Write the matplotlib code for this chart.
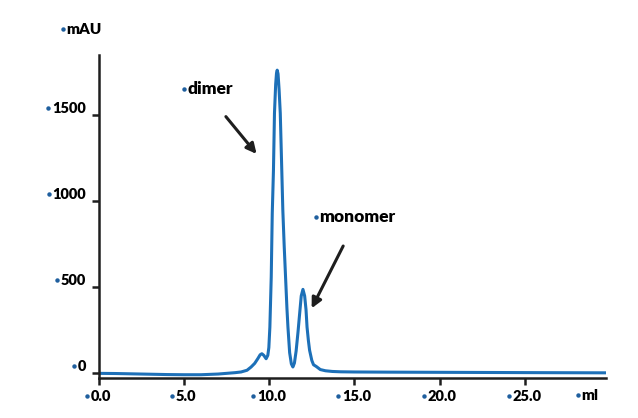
import matplotlib
matplotlib.use("Agg")
import matplotlib.pyplot as plt
from matplotlib.lines import Line2D
from matplotlib.transforms import IdentityTransform

# ── Data ─────────────────────────────────────────────────

volume_ml = [0, 1, 2, 3, 4, 5, 6, 7, 7.5, 8.0, 8.35, 8.7, 8.94, 9.15, 9.33, 9.47,
             9.57, 9.68, 9.82, 9.92, 9.98, 10.04, 10.12, 10.18, 10.25, 10.31, 10.38,
             10.43, 10.47, 10.52, 10.58, 10.65, 10.72, 10.8, 10.88, 10.96, 11.04,
             11.1, 11.2, 11.3, 11.39, 11.48, 11.58, 11.69, 11.78, 11.88, 11.98,
             12.08, 12.16, 12.22, 12.3, 12.37, 12.5, 12.6, 12.76, 13.0, 13.3, 13.7,
             14.2, 15, 17, 20, 23, 26, 29.9]
absorbance_mau = [0, -1, -3, -5, -7, -8, -8, -4, 0, 4, 8, 18, 37, 58, 85, 108,
                  114, 105, 85, 105, 150, 269, 560, 930, 1180, 1512, 1680,
                  1745, 1762, 1740, 1650, 1512, 1250, 948, 740, 560, 380,
                  269, 120, 55, 37, 60, 130, 240, 340, 450, 488,
                  450, 370, 269, 190, 134, 75, 50, 40, 22, 15, 11,
                  9, 8, 7, 6, 5, 4, 3]

x_ticks = [0, 5, 10, 15, 20, 25]
x_tick_labels = ["0.0", "5.0", "10.0", "15.0", "20.0", "25.0"]
y_ticks = [0, 500, 1000, 1500]
y_tick_labels = ["0", "500", "1000", "1500"]

# peak labels: (text, text position, arrow tail, arrow tip)
peak_labels = [
    ("dimer", (5.23, 1651), (7.46, 1492), (9.26, 1275)),
    ("monomer", (12.93, 907), (14.34, 740), (12.49, 378)),
]

# ── Style ────────────────────────────────────────────────

BLUE = "#1d70b8"
DOT = "#1f5f9e"
INK = "#1e1e1e"
FONT = "Lato"

fig = plt.figure(figsize=(6.38, 4.18), dpi=100)
ax = fig.add_axes([0.1547, 0.0957, 0.795, 0.7727])

ax.plot(volume_ml, absorbance_mau, color=BLUE, lw=2.2, solid_capstyle="round")

ax.set_xlim(0, 29.75)
ax.set_ylim(-27, 1850)

for side in ("top", "right"):
    ax.spines[side].set_visible(False)
for side in ("left", "bottom"):
    ax.spines[side].set_color(INK)
    ax.spines[side].set_linewidth(1.8)

ax.set_xticks(x_ticks)
ax.set_yticks(y_ticks)
ax.tick_params(axis="both", direction="out", length=5, width=1.8, color=INK,
               labelleft=False, labelbottom=False)

labels = []


def dotted_label(text, xy, xycoords, offset, ha, size):
    """Black heavy text; a blue bullet is put in front of it later."""
    t = ax.annotate(text, xy=xy, xycoords=xycoords, xytext=offset,
                    textcoords="offset pixels", ha=ha, va="center",
                    fontsize=size, fontweight="heavy", family=FONT,
                    color="black", annotation_clip=False)
    labels.append(t)
    return t


# y tick labels
for val, lab in zip(y_ticks, y_tick_labels):
    dotted_label(lab, (0, val), ("axes fraction", "data"), (-13, 7), "right", 10.5)

# x tick labels
for val, lab in zip(x_ticks, x_tick_labels):
    dotted_label(lab, (val, 0), ("data", "axes fraction"), (2, -19), "center", 10.5)

# axis units
dotted_label("mAU", (66.7 / 638, 1 - 29 / 418), "figure fraction", (0, 0), "left", 11)
dotted_label("ml", (581.7 / 638, 1 - 395 / 418), "figure fraction", (0, 0), "left", 11)

# peak annotations
for name, pos, tail, tip in peak_labels:
    dotted_label(name, pos, "data", (0, 0), "left", 12.5)
    ax.annotate("", xy=tip, xytext=tail, xycoords="data",
                arrowprops=dict(arrowstyle="-|>", lw=2.2, color=INK,
                                mutation_scale=15, shrinkA=0, shrinkB=0))

# blue bullets just left of each label
fig.canvas.draw()
renderer = fig.canvas.get_renderer()
for t in labels:
    bb = t.get_window_extent(renderer)
    fig.add_artist(Line2D([bb.x0 - 3.5], [(bb.y0 + bb.y1) / 2 + 0.5],
                          transform=IdentityTransform(), marker="o",
                          markersize=3.2, color=DOT, markeredgewidth=0))

fig.savefig("out.png", dpi=100)
